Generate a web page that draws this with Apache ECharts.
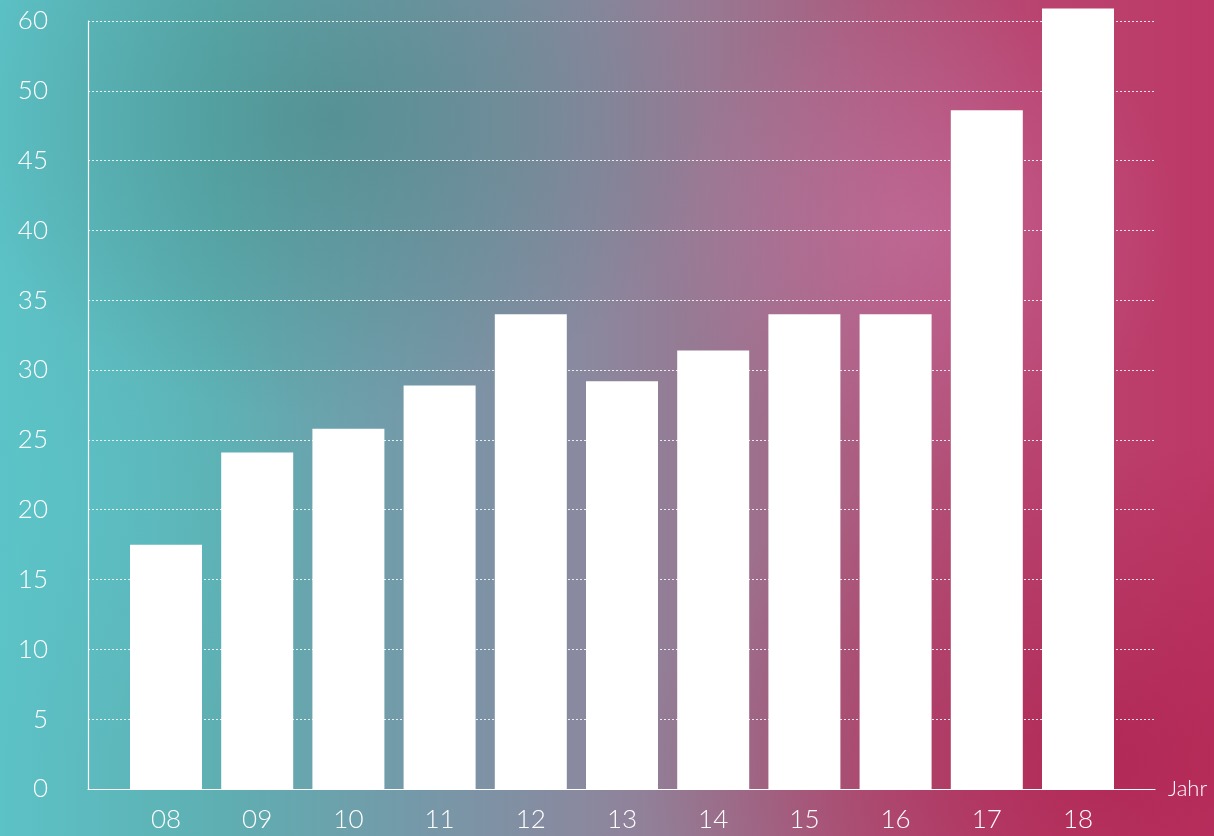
<!DOCTYPE html>
<html>
<head>
<meta charset="utf-8">
<script src="https://cdn.jsdelivr.net/npm/echarts@6/dist/echarts.min.js"></script>
<style>
  html, body { margin: 0; padding: 0; width: 1214px; height: 836px; overflow: hidden; }
  #bg {
    position: absolute; left: 0; top: 0; width: 1214px; height: 836px;
    background:
      radial-gradient(ellipse 260px 240px at 920px 230px, rgba(210,130,185,0.4), rgba(210,130,185,0) 100%),
      radial-gradient(ellipse 380px 300px at 330px 120px, rgba(60,125,120,0.45), rgba(60,125,120,0) 100%),
      radial-gradient(ellipse 460px 320px at 1100px 760px, rgba(170,25,70,0.55), rgba(170,25,70,0) 100%),
      radial-gradient(ellipse 260px 260px at 60px 500px, rgba(90,200,205,0.35), rgba(90,200,205,0) 100%),
      linear-gradient(90deg, #5cc2c6 0%, #5eafb2 18%, #7698a8 35%, #8a899f 48%, #9a7590 60%, #ad5a7e 72%, #b94470 85%, #bd3866 100%);
  }
  #chart { position: absolute; left: 0; top: 0; width: 1214px; height: 836px; }
</style>
</head>
<body>
<div id="bg"></div>
<div id="chart"></div>
<script>
const years = ['08', '09', '10', '11', '12', '13', '14', '15', '16', '17', '18'];
const values = [17.5, 24.1, 25.8, 28.9, 34.0, 29.2, 31.4, 34.0, 34.0, 48.6, 55.9];
const yTickLabels = ['0', '5', '10', '15', '20', '25', '30', '35', '40', '45', '50', '60'];
const xAxisName = 'Jahr';

const font = 'Lato';
const chart = echarts.init(document.getElementById('chart'), null, { renderer: 'canvas' });

chart.setOption({
  backgroundColor: 'transparent',
  animation: false,
  grid: [
    { left: 88, right: 59, top: 21, bottom: 47 },
    { left: 120.4, right: 90.4, top: 21, bottom: 47 }
  ],
  xAxis: [
    {
      gridIndex: 0, type: 'value', min: 0, max: 1,
      axisLine: { show: true, lineStyle: { color: '#ffffff', width: 1.2 } },
      axisTick: { show: false }, axisLabel: { show: false }, splitLine: { show: false },
      name: xAxisName, nameLocation: 'end', nameGap: 13,
      nameTextStyle: { color: '#ffffff', fontSize: 22, fontFamily: font, fontWeight: 300, verticalAlign: 'middle' }
    },
    {
      gridIndex: 1, type: 'category', data: years,
      axisLine: { show: false }, axisTick: { show: false },
      axisLabel: { color: '#ffffff', fontSize: 26, fontFamily: font, fontWeight: 300, margin: 18 }
    }
  ],
  yAxis: [
    {
      gridIndex: 0, type: 'value', min: 0, max: 55, interval: 5,
      axisLine: { show: true, lineStyle: { color: '#ffffff', width: 1.2 } },
      axisTick: { show: false },
      axisLabel: {
        color: '#ffffff', fontSize: 26, fontFamily: font, fontWeight: 300, margin: 40,
        formatter: function (v) { return yTickLabels[Math.round(v / 5)]; }
      },
      splitLine: { show: true, lineStyle: { color: 'rgba(255,255,255,0.85)', width: 1, type: [2, 2] } }
    },
    {
      gridIndex: 1, type: 'value', min: 0, max: 55, interval: 5, show: false,
      splitLine: { show: false }
    }
  ],
  series: [
    {
      type: 'bar', xAxisIndex: 1, yAxisIndex: 1, data: values,
      barWidth: 72, clip: false,
      itemStyle: { color: '#ffffff' }
    }
  ]
});
</script>
</body>
</html>
